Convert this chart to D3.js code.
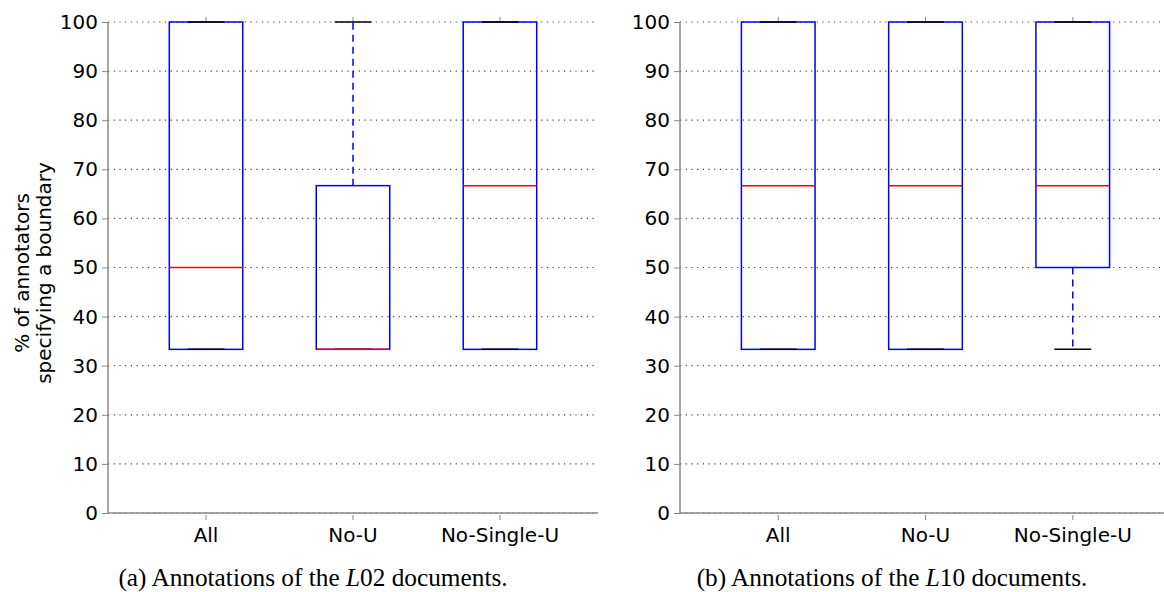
<!DOCTYPE html>
<html><head><meta charset="utf-8">
<script src="https://cdn.jsdelivr.net/npm/d3@7"></script>
<style>
html,body{margin:0;padding:0;background:#fff;}
svg{display:block;}
</style>
</head><body>
<svg id="chart" width="1164" height="592"></svg>
<script>
const categories = ["All", "No-U", "No-Single-U"];
const yTicks = [0, 10, 20, 30, 40, 50, 60, 70, 80, 90, 100];

const l02Low    = [33.33, 33.33, 33.33];
const l02Q1     = [33.33, 33.33, 33.33];
const l02Median = [50, 33.33, 66.67];
const l02Q3     = [100, 66.67, 100];
const l02High   = [100, 100, 100];

const l10Low    = [33.33, 33.33, 33.33];
const l10Q1     = [33.33, 33.33, 50];
const l10Median = [66.67, 66.67, 66.67];
const l10Q3     = [100, 100, 100];
const l10High   = [100, 100, 100];

const captions = [
  {pre: "(a) Annotations of the ", it: "L", post: "02 documents."},
  {pre: "(b) Annotations of the ", it: "L", post: "10 documents."}
];

const svg = d3.select("#chart");
const sans = "'DejaVu Sans', sans-serif";
const fs = 20;

const y = d3.scaleLinear().domain([0, 100]).range([513, 22]);

function panel(x0, x1, low, q1, med, q3, high, caption, capCenter, showYLabel) {
  const x = d3.scaleLinear().domain([0.333, 3.667]).range([x0, x1]);
  const g = svg.append("g");
  const boxW = x(1.25) - x(0.75);
  const capW = x(1.125) - x(0.875);

  // grid
  g.selectAll("line.grid").data(yTicks).enter().append("line")
    .attr("x1", x0).attr("x2", x1)
    .attr("y1", d => y(d)).attr("y2", d => y(d))
    .attr("stroke", "#444").attr("stroke-width", 1.2)
    .attr("stroke-dasharray", "1.2,4.5");

  // y axis
  const ya = d3.axisLeft(y).tickValues(yTicks).tickSize(6).tickPadding(4).tickFormat(d3.format("d"));
  const yg = g.append("g").attr("transform", `translate(${x0},0)`).call(ya);
  yg.select(".domain").remove();
  yg.selectAll(".tick line").attr("stroke", "#888").attr("stroke-width", 1);
  yg.selectAll(".tick text").attr("font-family", sans).attr("font-size", fs).attr("fill", "#000");

  // spines
  g.append("line").attr("x1", x0).attr("x2", x0).attr("y1", y(0)).attr("y2", y(100))
    .attr("stroke", "#888").attr("stroke-width", 1.5);
  g.append("line").attr("x1", x0).attr("x2", x1).attr("y1", y(0)).attr("y2", y(0))
    .attr("stroke", "#888").attr("stroke-width", 1.5);

  // x axis ticks / labels
  const idx = [0, 1, 2];
  g.selectAll("line.xt").data(idx).enter().append("line")
    .attr("x1", i => x(i + 1)).attr("x2", i => x(i + 1))
    .attr("y1", y(0) + 2).attr("y2", y(0) + 7)
    .attr("stroke", "#888").attr("stroke-width", 1);
  g.selectAll("line.xtt").data(idx).enter().append("line")
    .attr("x1", i => x(i + 1)).attr("x2", i => x(i + 1))
    .attr("y1", y(100) - 5).attr("y2", y(100))
    .attr("stroke", "#888").attr("stroke-width", 1);
  g.selectAll("text.xl").data(idx).enter().append("text")
    .attr("x", i => x(i + 1)).attr("y", y(0) + 29)
    .attr("text-anchor", "middle").attr("font-family", sans).attr("font-size", fs)
    .text(i => categories[i]);

  // whiskers
  g.selectAll("line.wl").data(idx).enter().append("line")
    .attr("x1", i => x(i + 1)).attr("x2", i => x(i + 1))
    .attr("y1", i => y(q1[i])).attr("y2", i => y(low[i]))
    .attr("stroke", "#0000ff").attr("stroke-width", 1.5).attr("stroke-dasharray", "7,5");
  g.selectAll("line.wh").data(idx).enter().append("line")
    .attr("x1", i => x(i + 1)).attr("x2", i => x(i + 1))
    .attr("y1", i => y(q3[i])).attr("y2", i => y(high[i]))
    .attr("stroke", "#0000ff").attr("stroke-width", 1.5).attr("stroke-dasharray", "7,5");

  // boxes
  g.selectAll("rect.box").data(idx).enter().append("rect")
    .attr("x", i => x(i + 1) - boxW / 2).attr("width", boxW)
    .attr("y", i => y(q3[i])).attr("height", i => y(q1[i]) - y(q3[i]))
    .attr("fill", "none").attr("stroke", "#0000ff").attr("stroke-width", 1.5);

  // caps
  [low, high].forEach(arr => {
    g.selectAll(null).data(idx).enter().append("line")
      .attr("x1", i => x(i + 1) - capW / 2).attr("x2", i => x(i + 1) + capW / 2)
      .attr("y1", i => y(arr[i])).attr("y2", i => y(arr[i]))
      .attr("stroke", "#000").attr("stroke-width", 1.5);
  });

  // medians
  g.selectAll("line.med").data(idx).enter().append("line")
    .attr("x1", i => x(i + 1) - boxW / 2).attr("x2", i => x(i + 1) + boxW / 2)
    .attr("y1", i => y(med[i])).attr("y2", i => y(med[i]))
    .attr("stroke", "#ff0000").attr("stroke-width", 1.5);

  // caption
  const t = g.append("text").attr("x", capCenter).attr("y", 586)
    .attr("text-anchor", "middle").attr("font-family", "'Liberation Serif', 'Times New Roman', serif")
    .attr("font-size", 25.3);
  t.append("tspan").text(caption.pre);
  t.append("tspan").attr("font-style", "italic").text(caption.it);
  t.append("tspan").text(caption.post);

  if (showYLabel) {
    const yl = g.append("text").attr("transform", `translate(0,273) rotate(-90)`)
      .attr("text-anchor", "middle").attr("font-family", sans).attr("font-size", fs);
    yl.append("tspan").attr("x", 0).attr("y", 29).text("% of annotators");
    yl.append("tspan").attr("x", 0).attr("y", 51).text("specifying a boundary");
  }
}

panel(108, 598, l02Low, l02Q1, l02Median, l02Q3, l02High, captions[0], 313, true);
panel(680, 1171, l10Low, l10Q1, l10Median, l10Q3, l10High, captions[1], 892, false);
</script>
</body></html>
